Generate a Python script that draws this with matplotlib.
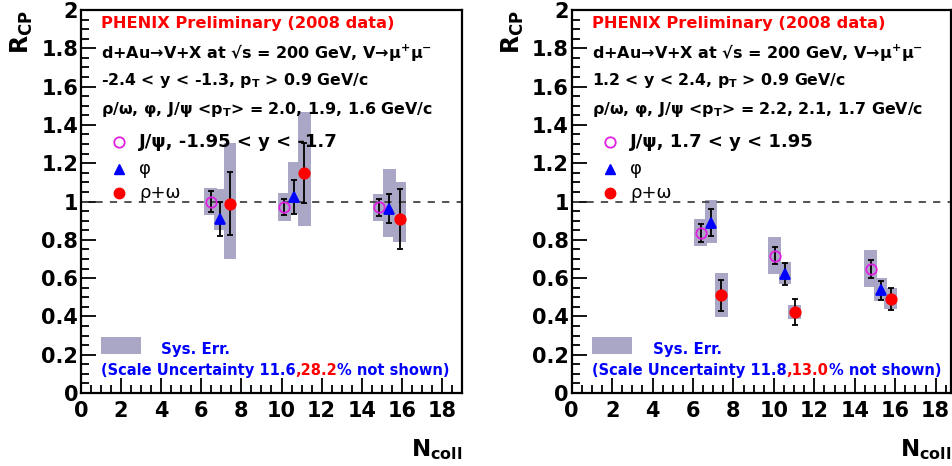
import numpy as np
import matplotlib
matplotlib.use("Agg")
import matplotlib.pyplot as plt
from matplotlib.ticker import MultipleLocator

plt.rcParams['font.family'] = ['DejaVu Sans']
plt.rcParams['font.weight'] = 'bold'
plt.rcParams['mathtext.default'] = 'regular'

# ---- data ----
# backward rapidity (left panel)
bw_jpsi_x = [6.47, 10.13, 14.87]
bw_jpsi_y = [1.00, 0.97, 0.97]
bw_jpsi_stat = [0.053, 0.042, 0.045]
bw_jpsi_syslo = [0.93, 0.899, 0.90]
bw_jpsi_syshi = [1.073, 1.044, 1.04]

bw_phi_x = [6.94, 10.63, 15.37]
bw_phi_y = [0.908, 1.025, 0.962]
bw_phi_stat = [0.087, 0.088, 0.075]
bw_phi_syslo = [0.852, 0.934, 0.817]
bw_phi_syshi = [1.065, 1.206, 1.17]

bw_rho_x = [7.43, 11.13, 15.90]
bw_rho_y = [0.988, 1.151, 0.91]
bw_rho_stat = [0.165, 0.157, 0.157]
bw_rho_syslo = [0.699, 0.87, 0.786]
bw_rho_syshi = [1.305, 1.468, 1.10]

# forward rapidity (right panel)
fw_jpsi_x = [6.39, 10.05, 14.79]
fw_jpsi_y = [0.838, 0.718, 0.647]
fw_jpsi_stat = [0.047, 0.045, 0.045]
fw_jpsi_syslo = [0.77, 0.623, 0.553]
fw_jpsi_syshi = [0.91, 0.817, 0.746]

fw_phi_x = [6.89, 10.55, 15.28]
fw_phi_y = [0.89, 0.622, 0.536]
fw_phi_stat = [0.07, 0.058, 0.049]
fw_phi_syslo = [0.782, 0.57, 0.478]
fw_phi_syshi = [1.009, 0.685, 0.60]

fw_rho_x = [7.40, 11.04, 15.78]
fw_rho_y = [0.51, 0.424, 0.492]
fw_rho_stat = [0.08, 0.068, 0.057]
fw_rho_syslo = [0.397, 0.386, 0.438]
fw_rho_syshi = [0.626, 0.46, 0.548]

x_ticks = [0, 2, 4, 6, 8, 10, 12, 14, 16, 18]
y_ticks = [0, 0.2, 0.4, 0.6, 0.8, 1.0, 1.2, 1.4, 1.6, 1.8, 2.0]
y_ticklabels = ['0', '0.2', '0.4', '0.6', '0.8', '1', '1.2', '1.4', '1.6', '1.8', '2']

SYS_COL = '#a9a7c5'
BOX_W = 0.64
MS = 7.5


def draw_series(ax, x, y, stat, lo, hi, marker, mfc, mec):
    lo = np.asarray(lo); hi = np.asarray(hi)
    ax.bar(x, hi - lo, bottom=lo, width=BOX_W, color=SYS_COL, zorder=1, lw=0)
    ax.errorbar(x, y, yerr=stat, fmt='none', ecolor='black', elinewidth=1.3,
                capsize=2.5, capthick=1.3, zorder=3)
    ax.plot(x, y, ls='none', marker=marker, ms=MS, mfc=mfc, mec=mec, mew=1.3, zorder=4)


def colored_line(ax, x, y, parts, size):
    t = ax.text(x, y, parts[0][0], color=parts[0][1], fontsize=size,
                fontweight='bold', va='center', ha='left')
    for s, c in parts[1:]:
        t = ax.annotate(s, xy=(1, 0), xycoords=t, color=c, fontsize=size,
                        fontweight='bold', va='bottom', ha='left')


def panel(ax, d, yrange, mpt, jpsi_lab, scale_a, scale_b, xmax):
    for (x, y, st, lo, hi), (mk, fc, ec) in zip(d, [('o', 'none', '#e020e0'),
                                                   ('^', 'blue', 'blue'),
                                                   ('o', 'red', 'red')]):
        draw_series(ax, x, y, st, lo, hi, mk, fc, ec)
    ax.axhline(1.0, color='#444444', ls=(0, (4, 4)), lw=1.3, zorder=2)

    ax.set_xlim(0, xmax)
    ax.set_ylim(0, 2)
    ax.set_xticks(x_ticks)
    ax.set_xticklabels([str(v) for v in x_ticks], fontweight='bold', fontsize=15)
    ax.set_yticks(y_ticks)
    ax.set_yticklabels(y_ticklabels, fontweight='bold', fontsize=15)
    ax.xaxis.set_minor_locator(MultipleLocator(0.5))
    ax.yaxis.set_minor_locator(MultipleLocator(0.05))
    ax.tick_params(which='both', direction='in', top=False, right=False, width=1.3)
    ax.tick_params(which='major', length=11)
    ax.tick_params(which='minor', length=6)
    ax.tick_params(axis='x', pad=6)
    ax.tick_params(axis='y', pad=2)
    for sp in ax.spines.values():
        sp.set_linewidth(1.6)

    ax.text(-0.155, 1.0, 'R$_{CP}$', transform=ax.transAxes, rotation=90,
            ha='center', va='top', fontsize=17, fontweight='bold')
    ax.text(1.0, -0.148, 'N$_{coll}$', transform=ax.transAxes,
            ha='right', va='center', fontsize=16.5, fontweight='bold')

    ax.text(1.0, 1.93, 'PHENIX Preliminary (2008 data)', color='red',
            fontsize=11.7, fontweight='bold', va='center')
    ax.text(1.0, 1.778, 'd+Au\u2192V+X at \u221as = 200 GeV, V\u2192\u03bc$^{+}$\u03bc$^{-}$',
            fontsize=11.5, fontweight='bold', va='center')
    ax.text(1.0, 1.63, yrange + ', p$_{T}$ > 0.9 GeV/c',
            fontsize=11.3, fontweight='bold', va='center')
    ax.text(1.0, 1.482, '\u03c1/\u03c9, \u03c6, J/\u03c8 <p$_{T}$> = ' + mpt + ' GeV/c',
            fontsize=11.4, fontweight='bold', va='center')

    ax.plot([1.9], [1.313], ls='none', marker='o', ms=MS, mfc='none', mec='#e020e0', mew=1.3)
    ax.plot([1.9], [1.17], ls='none', marker='^', ms=MS, color='blue')
    ax.plot([1.9], [1.044], ls='none', marker='o', ms=MS, color='red')
    ax.text(2.9, 1.313, jpsi_lab, fontsize=13, fontweight='bold', va='center')
    ax.text(2.9, 1.17, '\u03c6', fontsize=13, fontweight='normal', va='center')
    ax.text(2.9, 1.044, '\u03c1+\u03c9', fontsize=13, fontweight='normal', va='center')

    ax.bar([2.0], [0.087], bottom=[0.205], width=2.0, color=SYS_COL, lw=0)
    ax.text(4.0, 0.225, 'Sys. Err.', color='blue', fontsize=10.8,
            fontweight='bold', va='center')
    colored_line(ax, 1.0, 0.12, [('(Scale Uncertainty ' + scale_a, 'blue'),
                                 (',' + scale_b, 'red'),
                                 ('% not shown)', 'blue')], 10.5)


fig = plt.figure(figsize=(9.53, 4.66), dpi=100)
ax1 = fig.add_axes([81 / 953, 73 / 466, 381 / 953, 383 / 466])
ax2 = fig.add_axes([571.7 / 953, 73 / 466, 379.3 / 953, 383 / 466])

panel(ax1,
      [(bw_jpsi_x, bw_jpsi_y, bw_jpsi_stat, bw_jpsi_syslo, bw_jpsi_syshi),
       (bw_phi_x, bw_phi_y, bw_phi_stat, bw_phi_syslo, bw_phi_syshi),
       (bw_rho_x, bw_rho_y, bw_rho_stat, bw_rho_syslo, bw_rho_syshi)],
      '-2.4 < y < -1.3', '2.0, 1.9, 1.6', 'J/\u03c8, -1.95 < y < -1.7',
      '11.6', '28.2', 19.0)
panel(ax2,
      [(fw_jpsi_x, fw_jpsi_y, fw_jpsi_stat, fw_jpsi_syslo, fw_jpsi_syshi),
       (fw_phi_x, fw_phi_y, fw_phi_stat, fw_phi_syslo, fw_phi_syshi),
       (fw_rho_x, fw_rho_y, fw_rho_stat, fw_rho_syslo, fw_rho_syshi)],
      '1.2 < y < 2.4', '2.2, 2.1, 1.7', 'J/\u03c8, 1.7 < y < 1.95',
      '11.8', '13.0', 18.76)

fig.savefig('out.png', dpi=100)
